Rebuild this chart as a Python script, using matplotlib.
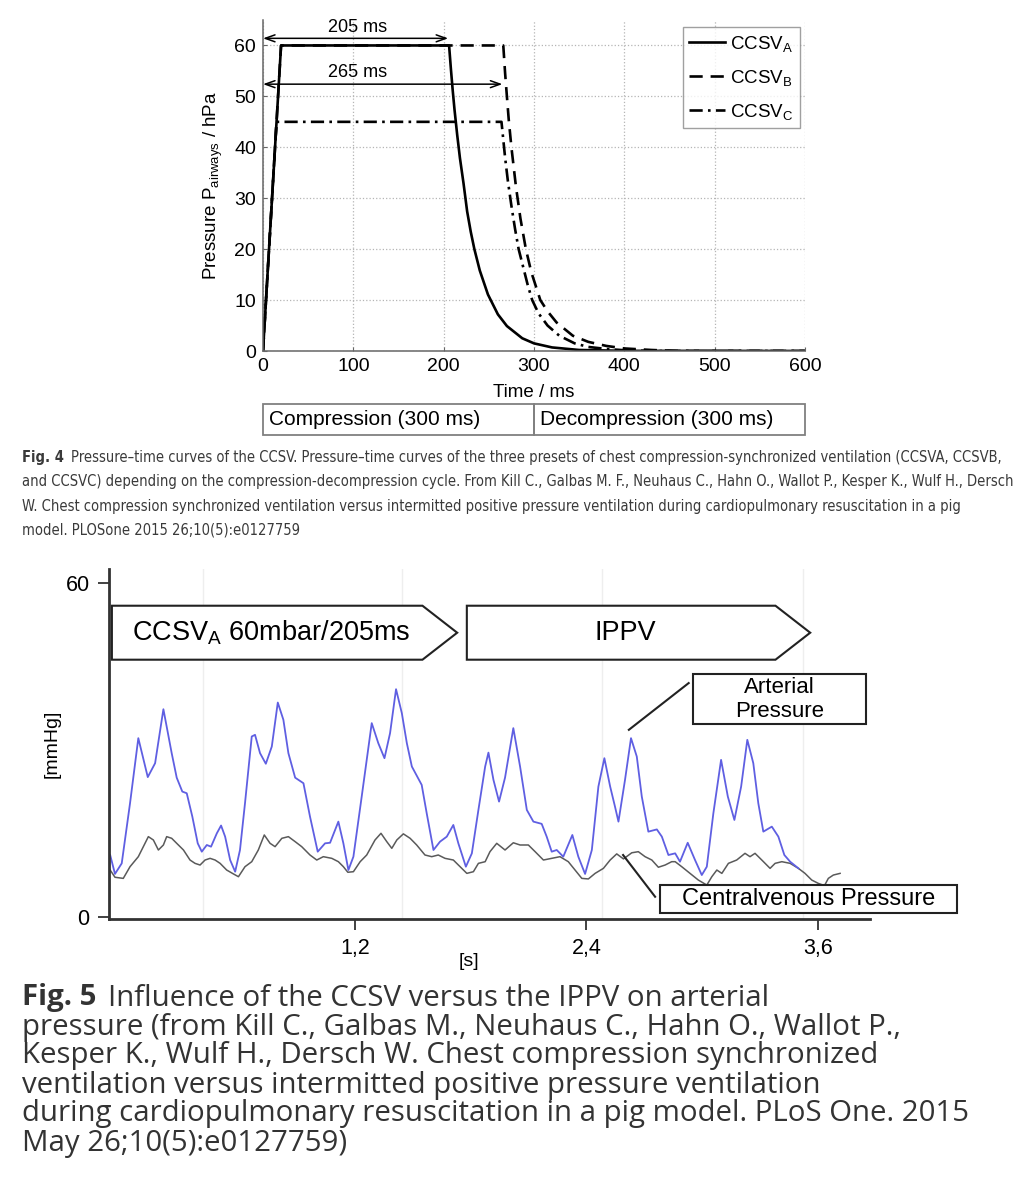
import matplotlib
matplotlib.use("Agg")
import matplotlib.pyplot as plt
from matplotlib.patches import Polygon, Rectangle
from matplotlib.font_manager import fontManager

W, H = 1027, 1200

# ---------------- Fig. 4 : pressure-time curves (ms, hPa)
t_a = [0, 20, 206, 208, 210, 212, 215, 218, 222, 226, 230, 234, 240, 249, 260, 270, 287, 300, 320, 350, 400, 600]
p_a = [0, 60, 60, 55.4, 51.2, 47.4, 42.4, 37.9, 32.9, 27.4, 23.4, 20.0, 15.8, 11.1, 7.2, 4.9, 2.5, 1.5, 0.7, 0.2, 0.03, 0]
t_b = [0, 20, 266, 268, 270, 272, 275, 280, 285, 291, 297, 307, 315, 325, 343, 360, 380, 400, 430, 460, 600]
p_b = [0, 60, 60, 54.6, 50.0, 45.5, 40.0, 32.3, 26.0, 20.0, 15.5, 10.0, 7.8, 5.6, 3.0, 1.8, 1.0, 0.5, 0.2, 0, 0]
t_c = [0, 15, 264, 266, 268, 271, 275, 279, 283, 288, 293, 298, 305, 315, 328, 345, 360, 380, 400, 430, 600]
p_c = [0, 45, 45, 41.5, 38.0, 33.5, 28.5, 24.0, 20.0, 16.5, 13.0, 10.0, 7.4, 5.0, 3.0, 1.5, 0.8, 0.4, 0.15, 0, 0]
series_labels = ["CCSV$_A$", "CCSV$_B$", "CCSV$_C$"]
phase_names = ["Compression (300 ms)", "Decompression (300 ms)"]
phase_ms = [300, 300]
spans_ms = [205, 265]
span_levels = [61.4, 52.4]

# ---------------- Fig. 5 : arterial / central venous pressure (s, mmHg)
t_art = [-0.069, -0.044, -0.009, 0.034, 0.077, 0.126, 0.164, 0.207, 0.250, 0.276,
         0.305, 0.328, 0.357, 0.385, 0.406, 0.432, 0.454, 0.484, 0.506, 0.527,
         0.553, 0.579, 0.604, 0.630, 0.665, 0.682, 0.708, 0.738, 0.769, 0.800,
         0.829, 0.855, 0.890,
         0.933, 0.967, 1.007, 1.045, 1.071, 1.114, 1.140, 1.166, 1.192, 1.235,
         1.287, 1.321, 1.353, 1.382, 1.413, 1.443, 1.469, 1.495, 1.546, 1.572,
         1.607, 1.641, 1.676, 1.710, 1.736, 1.775, 1.806, 1.840, 1.875,
         1.892, 1.918, 1.947, 1.978, 2.021, 2.056, 2.091, 2.125, 2.168, 2.194,
         2.220, 2.246, 2.280, 2.327, 2.358, 2.393, 2.428, 2.462, 2.493, 2.523,
         2.548, 2.566, 2.600, 2.631, 2.661, 2.687, 2.721, 2.765, 2.791, 2.825,
         2.860,
         2.885, 2.925, 2.963, 2.998, 3.024, 3.058, 3.098, 3.133, 3.167, 3.202,
         3.234, 3.265, 3.291, 3.317, 3.361, 3.395, 3.426, 3.456, 3.499]
p_art = [11.1, 7.7, 9.6, 20.4, 32.1, 25.1, 27.6, 37.3, 29.4, 25.0,
         22.5, 22.2, 18.0, 13.2, 11.7, 12.9, 12.6, 15.0, 16.4, 14.4,
         10.2, 8.1, 12.0, 20.4, 32.4, 32.7, 29.4, 27.5, 30.6, 38.5,
         35.4, 29.4, 25.0,
         24.0, 18.0, 11.7, 13.2, 13.3, 17.1, 13.2, 8.4, 10.8, 21.6,
         34.8, 31.2, 28.5, 33.0, 40.9, 36.6, 31.2, 27.0, 23.7, 18.6,
         12.0, 13.5, 14.4, 16.5, 13.2, 9.0, 11.4, 19.2, 27.0,
         29.5, 24.6, 20.7, 25.0, 33.9, 27.0, 19.2, 17.1, 16.7, 14.4,
         11.7, 12.0, 10.8, 14.7, 10.8, 7.7, 12.0, 23.4, 28.5, 23.4,
         19.8, 17.1, 24.6, 32.1, 28.8, 21.6, 15.3, 15.7, 14.4, 11.1,
         11.4,
         9.9, 13.3, 10.2, 7.5, 9.0, 18.6, 28.2, 21.6, 17.4, 23.4,
         31.8, 27.6, 20.4, 15.3, 16.2, 14.4, 11.1, 9.9, 8.7]
t_cvp = [-0.069, -0.044, -0.001, 0.034, 0.077, 0.103, 0.129, 0.155, 0.181, 0.207,
         0.224, 0.250, 0.276, 0.311, 0.345, 0.371, 0.397, 0.423, 0.449, 0.475,
         0.501, 0.535, 0.570, 0.596, 0.630, 0.665, 0.699, 0.730, 0.760, 0.786,
         0.821, 0.855, 0.890,
         0.924, 0.967, 1.002, 1.036, 1.080, 1.114, 1.140, 1.163, 1.192, 1.227,
         1.261, 1.304, 1.335, 1.365, 1.391, 1.417, 1.451, 1.486, 1.520, 1.563,
         1.598, 1.632, 1.667, 1.710, 1.745, 1.780, 1.814, 1.840, 1.875,
         1.900, 1.935, 1.978, 2.021, 2.056, 2.099, 2.134, 2.177, 2.220, 2.263,
         2.306, 2.341, 2.376, 2.410, 2.445, 2.488, 2.523, 2.557, 2.592, 2.635,
         2.669, 2.704, 2.739, 2.773, 2.808, 2.842, 2.860,
         2.894, 2.937, 2.980, 3.024, 3.050, 3.076, 3.102, 3.136, 3.179, 3.222,
         3.248, 3.274, 3.309, 3.352, 3.378, 3.413, 3.456, 3.499, 3.533, 3.568,
         3.602, 3.634, 3.654, 3.680, 3.715]
p_cvp = [8.4, 7.1, 6.9, 9.0, 10.8, 12.6, 14.4, 13.8, 12.0, 12.9,
         14.4, 14.1, 13.2, 12.0, 10.2, 9.6, 9.3, 10.2, 10.5, 10.2,
         9.6, 8.4, 7.7, 7.2, 9.0, 9.9, 12.0, 14.7, 13.2, 12.6,
         14.1, 14.4, 13.5,
         12.6, 11.1, 10.2, 10.8, 10.5, 9.9, 9.0, 8.0, 8.1, 9.9,
         11.1, 13.8, 15.0, 13.5, 12.3, 13.8, 14.9, 14.1, 12.9, 11.1,
         10.8, 11.1, 10.5, 10.2, 9.0, 7.8, 8.1, 9.6, 9.9,
         11.7, 13.2, 12.0, 13.3, 12.9, 12.9, 11.7, 10.2, 10.5, 10.8,
         9.9, 8.4, 6.9, 6.8, 7.8, 8.7, 10.2, 11.3, 10.4, 11.5,
         11.7, 10.8, 10.2, 8.9, 9.3, 9.9, 9.9,
         9.0, 7.8, 6.6, 5.7, 7.2, 8.4, 7.8, 9.6, 10.2, 11.4,
         10.8, 11.4, 10.2, 8.7, 9.6, 9.9, 9.6, 8.7, 7.8, 6.6,
         6.0, 5.6, 6.9, 7.5, 7.8]
grid_t = [0.413, 1.444, 2.481, 3.523]
xtick_vals = [1.2, 2.4, 3.6]
xtick_text = ["1,2", "2,4", "3,6"]
mode_names = ["CCSV$_A$ 60mbar/205ms", "IPPV"]

cap4 = ["Pressure\u2013time curves of the CCSV. Pressure\u2013time curves of the three presets of chest compression-synchronized ventilation (CCSVA, CCSVB,",
        "and CCSVC) depending on the compression-decompression cycle. From Kill C., Galbas M. F., Neuhaus C., Hahn O., Wallot P., Kesper K., Wulf H., Dersch",
        "W. Chest compression synchronized ventilation versus intermitted positive pressure ventilation during cardiopulmonary resuscitation in a pig",
        "model. PLOSone 2015 26;10(5):e0127759"]
cap5 = ["Influence of the CCSV versus the IPPV on arterial",
        "pressure (from Kill C., Galbas M., Neuhaus C., Hahn O., Wallot P.,",
        "Kesper K., Wulf H., Dersch W. Chest compression synchronized",
        "ventilation versus intermitted positive pressure ventilation",
        "during cardiopulmonary resuscitation in a pig model. PLoS One. 2015",
        "May 26;10(5):e0127759)"]

plt.rcParams["font.family"] = ["Liberation Sans", "DejaVu Sans"]
plt.rcParams["mathtext.default"] = "regular"

# condensed face for the small caption, if the system has one
cond = [f for f in fontManager.ttflist if f.name == "DejaVu Sans" and f.stretch == "condensed"]
cap4_font = dict(family="DejaVu Sans", stretch="condensed") if cond else dict(family="Liberation Sans")

fig = plt.figure(figsize=(W / 100, H / 100), dpi=100)
fig.patch.set_facecolor("white")
renderer = fig.canvas.get_renderer()


def fax(x0, y0, x1, y1):
    # pixel box -> figure axes
    return fig.add_axes([x0 / W, 1 - y1 / H, (x1 - x0) / W, (y1 - y0) / H])


# ---------- top chart
ax1 = fax(263, 20, 805, 351)
ax1.set_xlim(0, 600)
ax1.set_ylim(0, 65)
ax1.set_xticks(range(0, 601, 100))
ax1.set_yticks(range(0, 61, 10))
ax1.grid(True, linestyle=":", color="#b5b5b5", lw=0.9)
for s in ["top", "right"]:
    ax1.spines[s].set_visible(False)
for s in ["left", "bottom"]:
    ax1.spines[s].set_color("#666666")
    ax1.spines[s].set_linewidth(1.1)
ax1.tick_params(direction="in", length=3, color="#666666", labelsize=14, pad=5)

lb, = ax1.plot(t_b, p_b, color="black", lw=1.9, dashes=(5, 3))
lc, = ax1.plot(t_c, p_c, color="black", lw=1.9, dashes=(5, 2, 1, 2))
la, = ax1.plot(t_a, p_a, color="black", lw=1.9)

for span, lev in zip(spans_ms, span_levels):
    ax1.annotate("", xy=(0, lev), xytext=(span, lev),
                 arrowprops=dict(arrowstyle="<->,head_length=0.7,head_width=0.25",
                                 lw=1.1, color="black", shrinkA=0, shrinkB=0))
    ax1.text(105, lev + 2.2, f"{span} ms", ha="center", va="center", fontsize=13)

leg = ax1.legend([la, lb, lc], series_labels, loc="upper right",
                 bbox_to_anchor=(0.991, 0.979), borderaxespad=0, frameon=True,
                 fancybox=False, handlelength=1.9, handletextpad=0.3,
                 labelspacing=0.75, borderpad=0.35, prop={"size": 13.5})
leg.get_frame().set_edgecolor("#888888")
leg.get_frame().set_linewidth(1.0)

ax1.set_xlabel("Time / ms", fontsize=13.5)
ax1.xaxis.set_label_coords(0.5, -0.1)
ax1.set_ylabel("Pressure P$_{airways}$ / hPa", fontsize=13.5)
ax1.yaxis.set_label_coords(-0.071, 0.5)

# phase bar under top chart
axp = fax(263, 404, 805, 435)
axp.set_xlim(0, sum(phase_ms))
axp.set_ylim(0, 1)
axp.axis("off")
start = 0
for name, dur in zip(phase_names, phase_ms):
    axp.add_patch(Rectangle((start, 0), dur, 1, fill=False, ec="#808080", lw=1.3,
                            clip_on=False))
    axp.text(start + 7, 0.5, name, ha="left", va="center", fontsize=15)
    start += dur

# ---------- bottom chart
ax2 = fax(109, 569, 870, 919)
ax2.set_xlim(-0.075, 3.87)
ax2.set_ylim(-0.4, 62.5)
for s in ["top", "right"]:
    ax2.spines[s].set_visible(False)
for s in ["left", "bottom"]:
    ax2.spines[s].set_color("#333333")
    ax2.spines[s].set_linewidth(2)
ax2.set_yticks([0, 60])
ax2.set_yticklabels(["0", "60"])
ax2.set_xticks(xtick_vals)
ax2.set_xticklabels(xtick_text)
ax2.tick_params(direction="out", length=8, width=1.3, color="#333333",
                labelsize=15.5, pad=6)
for g in grid_t:
    ax2.axvline(g, color="#eeeeee", lw=1, zorder=0)

ax2.plot(t_cvp, p_cvp, color="#5a5a5a", lw=1.1)
ax2.plot(t_art, p_art, color="#5f5fe2", lw=1.3)

ax2.text(-0.075 - 57 / 192.9, 31, "[mmHg]", rotation=90, ha="center", va="center",
         fontsize=14)
ax2.text(1.79, -8.0, "[s]", ha="center", va="center", fontsize=14)

# mode arrows
mode_x = [(-0.06, 1.55, 1.73), (1.78, 3.38, 3.56)]
y_lo, y_hi = 46.2, 55.9
for name, (x0, x1, x2) in zip(mode_names, mode_x):
    pts = [(x0, y_lo), (x1, y_lo), (x2, (y_lo + y_hi) / 2), (x1, y_hi), (x0, y_hi)]
    ax2.add_patch(Polygon(pts, closed=True, fc="white", ec="#222222", lw=1.5,
                          clip_on=False, zorder=3))
    ax2.text((x0 + x2) / 2 - 0.07, (y_lo + y_hi) / 2, name, ha="center", va="center",
             fontsize=19.5, zorder=4)

# call-outs
ax2.plot([2.62, 2.93], [33.6, 42.0], color="#222222", lw=1.5, clip_on=False)
ax2.add_patch(Rectangle((2.95, 34.7), 0.9, 8.9, fc="white", ec="#222222", lw=1.5,
                        clip_on=False, zorder=3))
ax2.text(3.40, 39.1, "Arterial\nPressure", ha="center", va="center", fontsize=16,
         linespacing=1.2, zorder=4)
ax2.plot([2.59, 2.756], [11.1, 3.6], color="#222222", lw=1.5, clip_on=False)
ax2.add_patch(Rectangle((2.78, 0.6), 1.54, 5.1, fc="white", ec="#222222", lw=1.5,
                        clip_on=False, zorder=3))
ax2.text(3.55, 3.15, "Centralvenous Pressure", ha="center", va="center", fontsize=17,
         zorder=4)


# ---------- captions
def fit_size(text, target_px, **kw):
    t = fig.text(0, 0, text, fontsize=10, **kw)
    w = t.get_window_extent(renderer).width
    t.remove()
    return 10 * target_px / w


def caption(lines, ys, head, font, size, gap, color):
    hb = fig.text(22 / W, 1 - ys[0] / H, head, fontsize=size, weight="bold",
                  va="center", ha="left", color=color, **font)
    hw = hb.get_window_extent(renderer).width
    for i, (line, y) in enumerate(zip(lines, ys)):
        x = 22 + (hw + gap if i == 0 else 0)
        fig.text(x / W, 1 - y / H, line, fontsize=size, va="center", ha="left",
                 color=color, **font)


s4 = fit_size(cap4[1], 988, **cap4_font)
caption(cap4, [458, 482, 506, 530], "Fig. 4", cap4_font, s4, 7, "#3a3a3a")
cap5_font = dict(family="Open Sans")
s5 = fit_size(cap5[4], 948, **cap5_font)
caption(cap5, [998, 1027, 1056, 1085, 1114, 1143], "Fig. 5", cap5_font, s5, 12, "#333333")

fig.savefig("out.png", dpi=100, facecolor="white")
